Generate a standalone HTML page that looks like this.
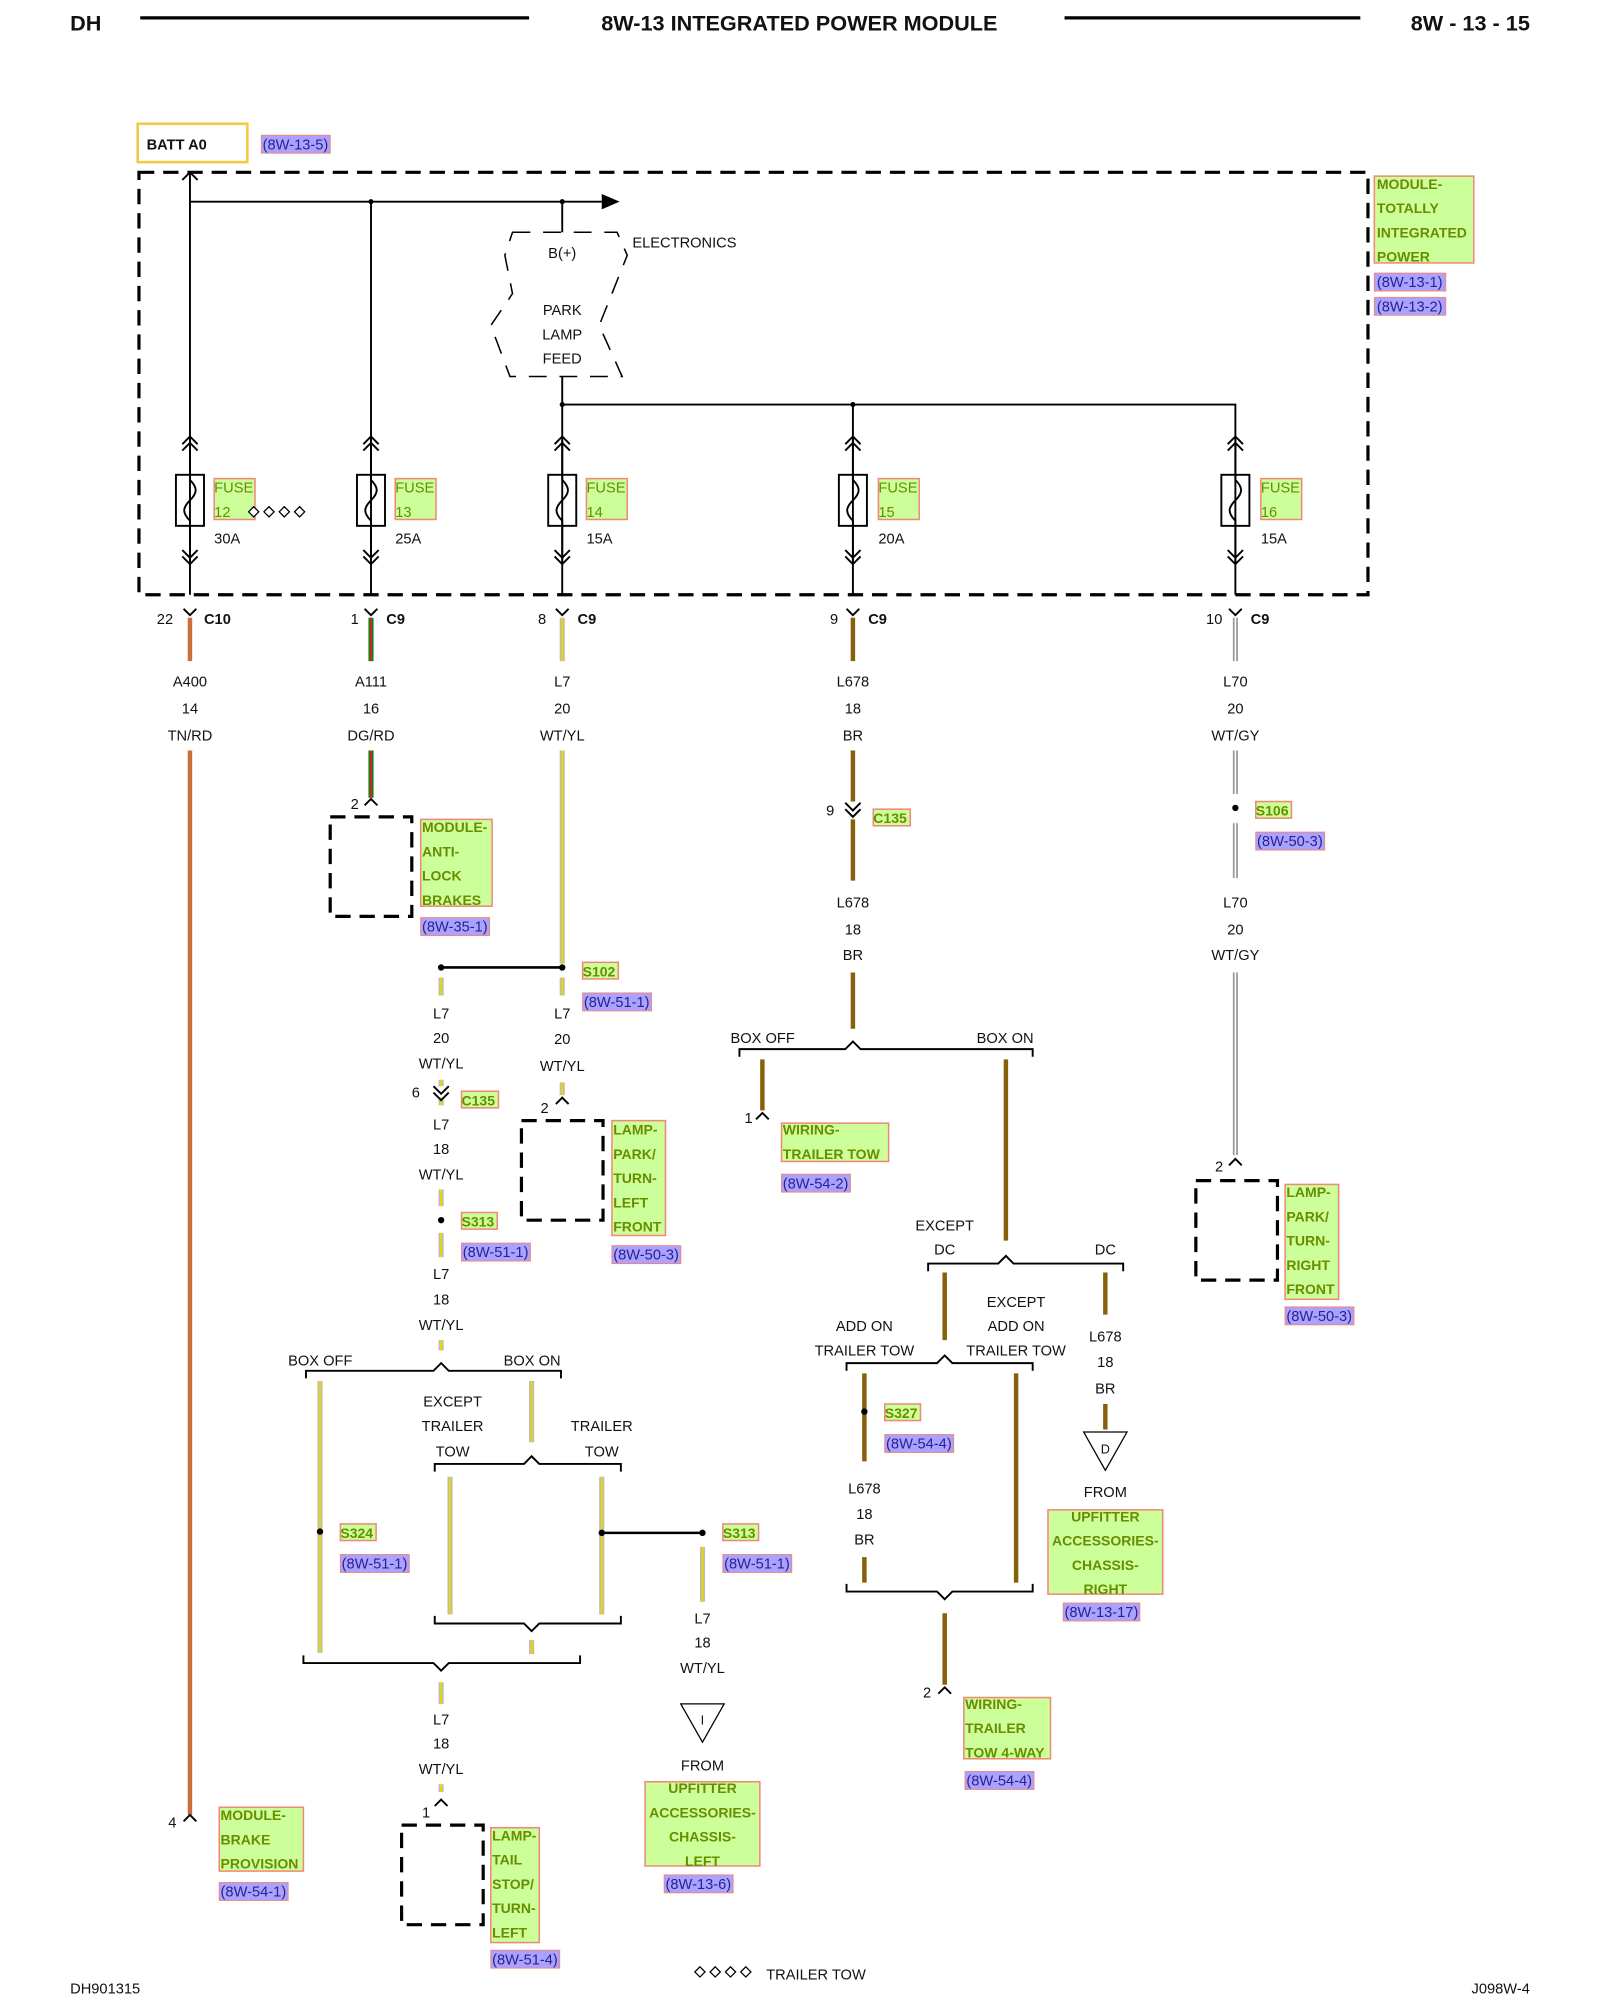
<!DOCTYPE html>
<html><head><meta charset="utf-8"><style>
html,body{margin:0;padding:0;background:#fff}
svg{display:block}
text{font-family:"Liberation Sans",sans-serif;font-size:11.5px;fill:#111}
.b{font-weight:bold}
.c{text-anchor:middle}
.g{fill:#ccff99;stroke:#f08878;stroke-width:1.2}
.gt{fill:#6a8c00;font-size:11.5px}
.r{fill:#a9a3ff;stroke:#f08878;stroke-width:0.8}
.rt{fill:#2a2090;font-size:11.5px}
.k{stroke:#000;stroke-width:1.5;fill:none}
.d{stroke:#000;stroke-width:2.5;fill:none;stroke-dasharray:12 7}
.w1{stroke:#bbb;stroke-width:4}
.w2{stroke:#e8d800;stroke-width:1.6}
.br{stroke:#86610a;stroke-width:3.5}
.gy{stroke:#999;stroke-width:4}
.gy2{stroke:#fff;stroke-width:1.2}
</style></head><body>
<svg width="1600" height="2000" viewBox="0 0 1255 1567" preserveAspectRatio="none">
<defs>
<g id="up"><path d="M-6,6 L0,0 L6,6 M-6,11 L0,5 L6,11" class="k" stroke-width="1.2"/></g>
<g id="dn"><path d="M-6,-6 L0,0 L6,-6 M-6,-11 L0,-5 L6,-11" class="k" stroke-width="1.2"/></g>
<g id="cy"><path d="M-5,-5 L0,0 L5,-5" class="k" stroke-width="1.2"/></g>
<g id="ca"><path d="M-5,5 L0,0 L5,5" class="k" stroke-width="1.2"/></g>
<g id="fuse"><rect x="-11" y="0" width="22" height="40" class="k" stroke-width="1.2"/><path d="M0,-30 V4 C6,10 6,14 0,20 C-6,26 -6,30 0,36 V70" class="k" stroke-width="1.2"/></g>
<g id="dia"><path d="M0,-4 L4,0 L0,4 L-4,0 Z" fill="#fff" stroke="#000" stroke-width="1"/></g>
</defs>
<text x="55" y="24" class="b" style="font-size:17px">DH</text>
<line x1="110" y1="14" x2="415" y2="14" stroke="#000" stroke-width="2.5"/>
<text x="627" y="24" class="b c" style="font-size:17px">8W-13 INTEGRATED POWER MODULE</text>
<line x1="835" y1="14" x2="1067" y2="14" stroke="#000" stroke-width="2.5"/>
<text x="1200" y="24" class="b" style="font-size:17px;text-anchor:end">8W - 13 - 15</text>

<rect x="108" y="97" width="86" height="30" fill="none" stroke="#f5c842" stroke-width="2"/>
<text x="115" y="117" class="b">BATT A0</text>
<rect x="205" y="106" width="54" height="14" class="r"/><text x="206" y="117" class="rt">(8W-13-5)</text>

<rect x="109" y="135" width="964" height="331" class="d"/>
<path d="M149,135 V466 M143,141 L149,135 L155,141 M149,158 H472 M291,158 V466 M441,158 V182 M441,295 V466 M441,317 H969 V466 M669,317 V466" class="k" stroke-width="1.5"/>
<path d="M472,152 L486,158 L472,164 Z" fill="#000"/>
<circle cx="291" cy="158" r="2" fill="#000"/><circle cx="441" cy="158" r="2" fill="#000"/>
<circle cx="441" cy="317" r="2" fill="#000"/><circle cx="669" cy="317" r="2" fill="#000"/>
<path d="M402,182 H484 L492,200 L480,230 L470,255 L488,295 H400 L385,255 L402,230 L396,200 Z" fill="none" stroke="#000" stroke-width="1.2" stroke-dasharray="14 10"/>
<text x="441" y="202" class="c">B(+)</text><text x="496" y="194">ELECTRONICS</text>
<text x="441" y="247" class="c">PARK</text><text x="441" y="266" class="c">LAMP</text><text x="441" y="285" class="c">FEED</text>

<g transform="translate(149,372)"><use href="#fuse"/></g><use href="#up" x="149" y="342"/><use href="#dn" x="149" y="442"/>
<g transform="translate(291,372)"><use href="#fuse"/></g><use href="#up" x="291" y="342"/><use href="#dn" x="291" y="442"/>
<g transform="translate(441,372)"><use href="#fuse"/></g><use href="#up" x="441" y="342"/><use href="#dn" x="441" y="442"/>
<g transform="translate(669,372)"><use href="#fuse"/></g><use href="#up" x="669" y="342"/><use href="#dn" x="669" y="442"/>
<g transform="translate(969,372)"><use href="#fuse"/></g><use href="#up" x="969" y="342"/><use href="#dn" x="969" y="442"/>
<rect x="168" y="375" width="32" height="32" class="g"/><text x="168" y="386" class="gt">FUSE</text><text x="168" y="405" class="gt">12</text>
<use href="#dia" x="199" y="401"/><use href="#dia" x="211" y="401"/><use href="#dia" x="223" y="401"/><use href="#dia" x="235" y="401"/>
<text x="168" y="426">30A</text>
<rect x="310" y="375" width="32" height="32" class="g"/><text x="310" y="386" class="gt">FUSE</text><text x="310" y="405" class="gt">13</text><text x="310" y="426">25A</text>
<rect x="460" y="375" width="32" height="32" class="g"/><text x="460" y="386" class="gt">FUSE</text><text x="460" y="405" class="gt">14</text><text x="460" y="426">15A</text>
<rect x="689" y="375" width="32" height="32" class="g"/><text x="689" y="386" class="gt">FUSE</text><text x="689" y="405" class="gt">15</text><text x="689" y="426">20A</text>
<rect x="989" y="375" width="32" height="32" class="g"/><text x="989" y="386" class="gt">FUSE</text><text x="989" y="405" class="gt">16</text><text x="989" y="426">15A</text>

<rect x="1078" y="138" width="78" height="68" class="g"/>
<text x="1080" y="148" class="gt b" style="font-size:11px">MODULE-</text><text x="1080" y="167" class="gt b" style="font-size:11px">TOTALLY</text><text x="1080" y="186" class="gt b" style="font-size:11px">INTEGRATED</text><text x="1080" y="205" class="gt b" style="font-size:11px">POWER</text>
<rect x="1078" y="214" width="56" height="14" class="r"/><text x="1080" y="225" class="rt">(8W-13-1)</text>
<rect x="1078" y="233" width="56" height="14" class="r"/><text x="1080" y="244" class="rt">(8W-13-2)</text>

<use href="#cy" x="149" y="482"/><use href="#cy" x="291" y="482"/><use href="#cy" x="441" y="482"/><use href="#cy" x="669" y="482"/><use href="#cy" x="969" y="482"/>
<text x="123" y="489">22</text><text x="160" y="489" class="b">C10</text>
<text x="275" y="489">1</text><text x="303" y="489" class="b">C9</text>
<text x="422" y="489">8</text><text x="453" y="489" class="b">C9</text>
<text x="651" y="489">9</text><text x="681" y="489" class="b">C9</text>
<text x="946" y="489">10</text><text x="981" y="489" class="b">C9</text>

<path d="M149,484 V518 M149,588 V1422" stroke="#c8703c" stroke-width="3.5"/>
<text x="149" y="538" class="c">A400</text><text x="149" y="559" class="c">14</text><text x="149" y="580" class="c">TN/RD</text>
<use href="#ca" x="149" y="1422"/><text x="132" y="1432">4</text>
<rect x="172" y="1416" width="66" height="50" class="g"/><text x="173" y="1426" class="gt b" style="font-size:11px">MODULE-</text><text x="173" y="1445" class="gt b" style="font-size:11px">BRAKE</text><text x="173" y="1464" class="gt b" style="font-size:11px">PROVISION</text>
<rect x="172" y="1475" width="54" height="14" class="r"/><text x="173" y="1486" class="rt">(8W-54-1)</text>

<path d="M291,484 V518 M291,588 V625" stroke="#1a7a1a" stroke-width="4"/><path d="M291,484 V518 M291,588 V625" stroke="#e02020" stroke-width="1.3"/>
<text x="291" y="538" class="c">A111</text><text x="291" y="559" class="c">16</text><text x="291" y="580" class="c">DG/RD</text>
<use href="#ca" x="291" y="626"/><text x="275" y="634">2</text>
<rect x="259" y="640" width="64" height="78" class="d" stroke-width="2"/>
<rect x="330" y="642" width="56" height="68" class="g"/><text x="331" y="652" class="gt b" style="font-size:11px">MODULE-</text><text x="331" y="671" class="gt b" style="font-size:11px">ANTI-</text><text x="331" y="690" class="gt b" style="font-size:11px">LOCK</text><text x="331" y="709" class="gt b" style="font-size:11px">BRAKES</text>
<rect x="330" y="719" width="54" height="14" class="r"/><text x="331" y="730" class="rt">(8W-35-1)</text>

<g><path d="M441,484 V518 M441,588 V755 M441,766 V780 M441,848 V858" class="w1"/><path d="M441,484 V518 M441,588 V755 M441,766 V780 M441,848 V858" class="w2"/></g>
<text x="441" y="538" class="c">L7</text><text x="441" y="559" class="c">20</text><text x="441" y="580" class="c">WT/YL</text>
<path d="M346,758 H441" stroke="#000" stroke-width="2"/><circle cx="346" cy="758" r="2.5"/><circle cx="441" cy="758" r="2.5"/>
<rect x="457" y="754" width="28" height="13" class="g"/><text x="457" y="765" class="gt b" style="font-size:11px">S102</text>
<rect x="457" y="778" width="54" height="14" class="r"/><text x="458" y="789" class="rt">(8W-51-1)</text>
<text x="441" y="798" class="c">L7</text><text x="441" y="818" class="c">20</text><text x="441" y="839" class="c">WT/YL</text>
<use href="#ca" x="441" y="860"/><text x="424" y="872">2</text>
<rect x="409" y="878" width="64" height="78" class="d" stroke-width="2"/>
<rect x="480" y="878" width="42" height="90" class="g"/><text x="481" y="889" class="gt b" style="font-size:11px">LAMP-</text><text x="481" y="908" class="gt b" style="font-size:11px">PARK/</text><text x="481" y="927" class="gt b" style="font-size:11px">TURN-</text><text x="481" y="946" class="gt b" style="font-size:11px">LEFT</text><text x="481" y="965" class="gt b" style="font-size:11px">FRONT</text>
<rect x="480" y="976" width="54" height="14" class="r"/><text x="481" y="987" class="rt">(8W-50-3)</text>

<g><path d="M346,766 V780 M346,846 V851 M346,860 V866 M346,932 V945 M346,966 V985 M346,1050 V1058 M251,1082 V1295 M417,1082 V1130 M353,1157 V1265 M472,1157 V1265 M417,1285 V1296 M346,1318 V1335 M346,1398 V1404 M551,1212 V1255" class="w1"/><path d="M346,766 V780 M346,846 V851 M346,860 V866 M346,932 V945 M346,966 V985 M346,1050 V1058 M251,1082 V1295 M417,1082 V1130 M353,1157 V1265 M472,1157 V1265 M417,1285 V1296 M346,1318 V1335 M346,1398 V1404 M551,1212 V1255" class="w2"/></g>
<text x="346" y="798" class="c">L7</text><text x="346" y="817" class="c">20</text><text x="346" y="837" class="c">WT/YL</text>
<use href="#dn" x="346" y="862"/><text x="323" y="860">6</text>
<rect x="362" y="855" width="29" height="13" class="g"/><text x="362" y="866" class="gt b" style="font-size:11px">C135</text>
<text x="346" y="885" class="c">L7</text><text x="346" y="904" class="c">18</text><text x="346" y="924" class="c">WT/YL</text>
<circle cx="346" cy="956" r="2.5"/>
<rect x="362" y="950" width="28" height="13" class="g"/><text x="362" y="961" class="gt b" style="font-size:11px">S313</text>
<rect x="362" y="974" width="54" height="14" class="r"/><text x="363" y="985" class="rt">(8W-51-1)</text>
<text x="346" y="1002" class="c">L7</text><text x="346" y="1022" class="c">18</text><text x="346" y="1042" class="c">WT/YL</text>
<text x="226" y="1070">BOX OFF</text><text x="395" y="1070">BOX ON</text>
<path d="M240,1080 V1074 H340 L346,1068 L352,1074 H440 V1080" class="k" stroke-width="1.2"/>
<text x="355" y="1102" class="c">EXCEPT</text><text x="355" y="1121" class="c">TRAILER</text><text x="355" y="1141" class="c">TOW</text>
<text x="472" y="1121" class="c">TRAILER</text><text x="472" y="1141" class="c">TOW</text>
<path d="M341,1153 V1147 H411 L417,1141 L423,1147 H487 V1153" class="k" stroke-width="1.2"/>
<circle cx="251" cy="1200" r="2.5"/>
<rect x="267" y="1194" width="28" height="13" class="g"/><text x="267" y="1205" class="gt b" style="font-size:11px">S324</text>
<rect x="267" y="1218" width="54" height="14" class="r"/><text x="268" y="1229" class="rt">(8W-51-1)</text>
<path d="M472,1201 H551" stroke="#000" stroke-width="2"/><circle cx="472" cy="1201" r="2.5"/><circle cx="551" cy="1201" r="2.5"/>
<rect x="567" y="1194" width="28" height="13" class="g"/><text x="567" y="1205" class="gt b" style="font-size:11px">S313</text>
<rect x="567" y="1218" width="54" height="14" class="r"/><text x="568" y="1229" class="rt">(8W-51-1)</text>
<path d="M341,1266 V1272 H411 L417,1278 L423,1272 H487 V1266" class="k" stroke-width="1.2"/>
<path d="M238,1297 V1303 H340 L346,1309 L352,1303 H455 V1297" class="k" stroke-width="1.2"/>
<text x="346" y="1351" class="c">L7</text><text x="346" y="1370" class="c">18</text><text x="346" y="1390" class="c">WT/YL</text>
<use href="#ca" x="346" y="1410"/><text x="331" y="1424">1</text>
<rect x="315" y="1430" width="64" height="78" class="d" stroke-width="2"/>
<rect x="385" y="1432" width="38" height="90" class="g"/><text x="386" y="1442" class="gt b" style="font-size:11px">LAMP-</text><text x="386" y="1461" class="gt b" style="font-size:11px">TAIL</text><text x="386" y="1480" class="gt b" style="font-size:11px">STOP/</text><text x="386" y="1499" class="gt b" style="font-size:11px">TURN-</text><text x="386" y="1518" class="gt b" style="font-size:11px">LEFT</text>
<rect x="385" y="1528" width="54" height="14" class="r"/><text x="386" y="1539" class="rt">(8W-51-4)</text>

<text x="551" y="1272" class="c">L7</text><text x="551" y="1291" class="c">18</text><text x="551" y="1311" class="c">WT/YL</text>
<path d="M534,1335 H568 L551,1365 Z" fill="#fff" stroke="#000" stroke-width="1"/><text x="551" y="1351" class="c" style="font-size:10px">I</text>
<text x="551" y="1387" class="c">FROM</text>
<rect x="506" y="1396" width="90" height="66" class="g"/><text x="551" y="1405" class="gt b c" style="font-size:11px">UPFITTER</text><text x="551" y="1424" class="gt b c" style="font-size:11px">ACCESSORIES-</text><text x="551" y="1443" class="gt b c" style="font-size:11px">CHASSIS-</text><text x="551" y="1462" class="gt b c" style="font-size:11px">LEFT</text>
<rect x="521" y="1469" width="54" height="14" class="r"/><text x="522" y="1480" class="rt">(8W-13-6)</text>

<path d="M669,484 V518 M669,588 V628 M669,642 V690 M669,762 V806 M598,830 V870 M789,830 V972 M741,997 V1050 M867,997 V1030 M867,1100 V1120 M678,1076 V1145 M678,1220 V1240 M797,1076 V1240 M741,1264 V1320" class="br"/>
<text x="669" y="538" class="c">L678</text><text x="669" y="559" class="c">18</text><text x="669" y="580" class="c">BR</text>
<use href="#dn" x="669" y="640"/><text x="648" y="639">9</text>
<rect x="685" y="634" width="29" height="13" class="g"/><text x="685" y="645" class="gt b" style="font-size:11px">C135</text>
<text x="669" y="711" class="c">L678</text><text x="669" y="732" class="c">18</text><text x="669" y="752" class="c">BR</text>
<text x="573" y="817">BOX OFF</text><text x="766" y="817">BOX ON</text>
<path d="M580,828 V822 H663 L669,816 L675,822 H810 V828" class="k" stroke-width="1.2"/>
<use href="#ca" x="598" y="872"/><text x="584" y="880">1</text>
<rect x="613" y="880" width="84" height="30" class="g"/><text x="614" y="889" class="gt b" style="font-size:11px">WIRING-</text><text x="614" y="908" class="gt b" style="font-size:11px">TRAILER TOW</text>
<rect x="613" y="920" width="54" height="14" class="r"/><text x="614" y="931" class="rt">(8W-54-2)</text>
<text x="741" y="964" class="c">EXCEPT</text><text x="741" y="983" class="c">DC</text><text x="867" y="983" class="c">DC</text>
<path d="M728,996 V990 H783 L789,984 L795,990 H881 V996" class="k" stroke-width="1.2"/>
<text x="678" y="1043" class="c">ADD ON</text><text x="678" y="1062" class="c">TRAILER TOW</text>
<text x="797" y="1024" class="c">EXCEPT</text><text x="797" y="1043" class="c">ADD ON</text><text x="797" y="1062" class="c">TRAILER TOW</text>
<path d="M664,1074 V1068 H735 L741,1062 L747,1068 H810 V1074" class="k" stroke-width="1.2"/>
<circle cx="678" cy="1106" r="2.5"/>
<rect x="694" y="1100" width="28" height="13" class="g"/><text x="694" y="1111" class="gt b" style="font-size:11px">S327</text>
<rect x="694" y="1124" width="54" height="14" class="r"/><text x="695" y="1135" class="rt">(8W-54-4)</text>
<text x="678" y="1170" class="c">L678</text><text x="678" y="1190" class="c">18</text><text x="678" y="1210" class="c">BR</text>
<path d="M664,1241 V1247 H735 L741,1253 L747,1247 H810 V1241" class="k" stroke-width="1.2"/>
<use href="#ca" x="741" y="1322"/><text x="724" y="1330">2</text>
<rect x="756" y="1330" width="68" height="48" class="g"/><text x="757" y="1339" class="gt b" style="font-size:11px">WIRING-</text><text x="757" y="1358" class="gt b" style="font-size:11px">TRAILER</text><text x="757" y="1377" class="gt b" style="font-size:11px">TOW 4-WAY</text>
<rect x="757" y="1388" width="54" height="14" class="r"/><text x="758" y="1399" class="rt">(8W-54-4)</text>
<text x="867" y="1051" class="c">L678</text><text x="867" y="1071" class="c">18</text><text x="867" y="1092" class="c">BR</text>
<path d="M850,1122 H884 L867,1152 Z" fill="#fff" stroke="#000" stroke-width="1"/><text x="867" y="1139" class="c" style="font-size:10px">D</text>
<text x="867" y="1173" class="c">FROM</text>
<rect x="822" y="1183" width="90" height="66" class="g"/><text x="867" y="1192" class="gt b c" style="font-size:11px">UPFITTER</text><text x="867" y="1211" class="gt b c" style="font-size:11px">ACCESSORIES-</text><text x="867" y="1230" class="gt b c" style="font-size:11px">CHASSIS-</text><text x="867" y="1249" class="gt b c" style="font-size:11px">RIGHT</text>
<rect x="834" y="1256" width="60" height="14" class="r"/><text x="835" y="1267" class="rt">(8W-13-17)</text>

<path d="M969,484 V518 M969,588 V622 M969,645 V688 M969,762 V905" class="gy"/><path d="M969,484 V518 M969,588 V622 M969,645 V688 M969,762 V905" class="gy2"/>
<text x="969" y="538" class="c">L70</text><text x="969" y="559" class="c">20</text><text x="969" y="580" class="c">WT/GY</text>
<circle cx="969" cy="633" r="2.5"/>
<rect x="985" y="628" width="28" height="13" class="g"/><text x="985" y="639" class="gt b" style="font-size:11px">S106</text>
<rect x="985" y="652" width="54" height="14" class="r"/><text x="986" y="663" class="rt">(8W-50-3)</text>
<text x="969" y="711" class="c">L70</text><text x="969" y="732" class="c">20</text><text x="969" y="752" class="c">WT/GY</text>
<use href="#ca" x="969" y="908"/><text x="953" y="918">2</text>
<rect x="938" y="925" width="64" height="78" class="d" stroke-width="2"/>
<rect x="1008" y="928" width="42" height="90" class="g"/><text x="1009" y="938" class="gt b" style="font-size:11px">LAMP-</text><text x="1009" y="957" class="gt b" style="font-size:11px">PARK/</text><text x="1009" y="976" class="gt b" style="font-size:11px">TURN-</text><text x="1009" y="995" class="gt b" style="font-size:11px">RIGHT</text><text x="1009" y="1014" class="gt b" style="font-size:11px">FRONT</text>
<rect x="1008" y="1024" width="54" height="14" class="r"/><text x="1009" y="1035" class="rt">(8W-50-3)</text>

<text x="55" y="1562">DH901315</text>
<use href="#dia" x="549" y="1545"/><use href="#dia" x="561" y="1545"/><use href="#dia" x="573" y="1545"/><use href="#dia" x="585" y="1545"/>
<text x="601" y="1551">TRAILER TOW</text>
<text x="1200" y="1562" style="text-anchor:end">J098W-4</text>
</svg>
</body></html>
